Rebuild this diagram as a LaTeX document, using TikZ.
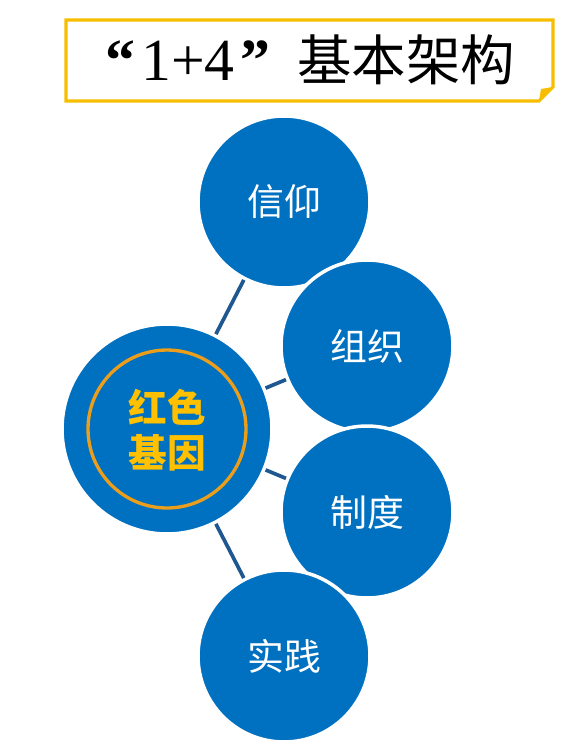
\documentclass[tikz,border=0pt]{standalone}
\usepackage{fontspec}
\newfontfamily\cjk{Noto Sans CJK SC}
\newfontfamily\serif{Liberation Serif}
\definecolor{cblue}{RGB}{0,112,192}
\definecolor{lblue}{RGB}{31,88,145}
\definecolor{ring}{RGB}{234,158,28}
\definecolor{gold}{RGB}{255,192,0}
\definecolor{tborder}{RGB}{247,190,0}
\tikzset{
  sat/.style={circle, fill=cblue, draw=white, line width=2pt, minimum size=3.44cm, inner sep=0pt,
    text=white, font=\cjk\fontsize{21}{25}\selectfont},
  hub/.style={circle, fill=cblue, draw=white, line width=2pt, minimum size=4.2cm, inner sep=0pt},
  ringc/.style={circle, draw=ring, line width=1.9pt, minimum size=3.16cm, inner sep=0pt},
  conn/.style={draw=lblue, line width=2.1pt},
  titlebox/.style={draw=tborder, line width=1.8pt, fill=white}
}
\begin{document}
\begin{tikzpicture}[x=0.02cm, y=-0.02cm]
\useasboundingbox (0,0) rectangle (586,747);
% title box with folded corner
\draw[titlebox] (66,20) -- (553,20) -- (553,87) -- (539,101) -- (66,101) -- cycle;
\fill[tborder] (539,101) -- (553,87) -- (541,89) -- cycle;
\node[anchor=base west, inner sep=0pt] (title) at (105,80)
  {\serif\fontsize{34}{40}\selectfont \textbf{“}\hspace{0.1em}1+4\hspace{0.1em}\textbf{”}\hspace{0.45em}{\cjk\fontsize{31}{40}\selectfont 基本架构}};
% nodes
\node[hub] (c) at (167,429) {};
\node[ringc] (r) at (167,429) {};
\node[align=center, text=gold, font=\cjk\bfseries\fontsize{22}{26}\selectfont] (ct) at (167,430) {红色\\基因};
\node[sat] (s1) at (284,202) {信仰};
\node[sat] (s2) at (367,346) {组织};
\node[sat] (s3) at (367,512) {制度};
\node[sat] (s4) at (284,656) {实践};
% connectors
\draw[conn] (c) -- (s1);
\draw[conn] (c) -- (s2);
\draw[conn] (c) -- (s3);
\draw[conn] (c) -- (s4);
\end{tikzpicture}
\end{document}
